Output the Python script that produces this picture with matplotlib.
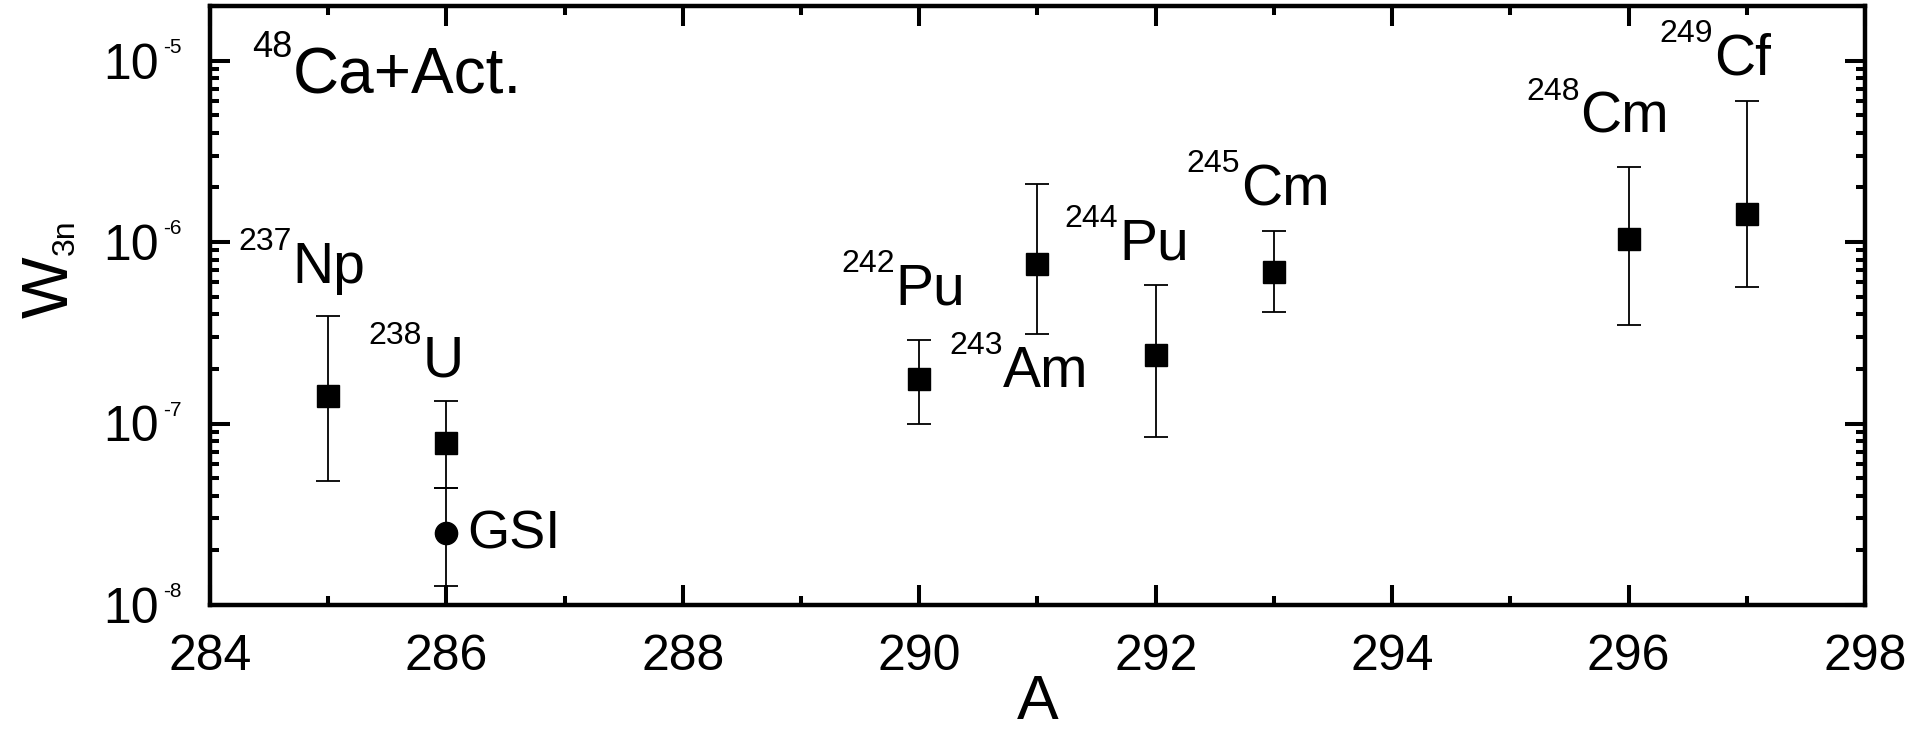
import numpy as np
import matplotlib
matplotlib.use('Agg')
import matplotlib.pyplot as plt
from matplotlib.ticker import MultipleLocator, LogLocator, NullFormatter

plt.rcParams['font.family'] = 'Liberation Sans'

# 48Ca + actinide data (A of compound nucleus, W3n with upper / lower error limits)
mass = [285, 286, 290, 291, 292, 293, 296, 297]
w3n = [1.41e-7, 7.8e-8, 1.75e-7, 7.6e-7, 2.4e-7, 6.8e-7, 1.04e-6, 1.42e-6]
w3n_hi = [3.9e-7, 1.33e-7, 2.9e-7, 2.1e-6, 5.8e-7, 1.15e-6, 2.6e-6, 6.0e-6]
w3n_lo = [4.85e-8, 4.4e-8, 9.9e-8, 3.1e-7, 8.4e-8, 4.1e-7, 3.5e-7, 5.65e-7]

# GSI point
gsi_mass = [286]
gsi_w3n = [2.48e-8]
gsi_hi = [4.4e-8]
gsi_lo = [1.27e-8]

# target labels: superscript, symbol, position (left/baseline of symbol)
lab_sup = ['237', '238', '242', '243', '244', '245', '248', '249']
lab_sym = ['Np', 'U', 'Pu', 'Am', 'Pu', 'Cm', 'Cm', 'Cf']
lab_x = [284.70, 285.80, 289.80, 290.71, 291.69, 292.72, 295.59, 296.72]
lab_y = [5.96e-7, 1.81e-7, 4.51e-7, 1.59e-7, 7.98e-7, 1.60e-6, 4.0e-6, 8.35e-6]

fig = plt.figure(figsize=(19.17, 7.34), dpi=100)
ax = fig.add_axes([0.10955, 0.17575, 0.86332, 0.81608])

m = np.array(w3n)
ax.errorbar(mass, w3n, yerr=[m - np.array(w3n_lo), np.array(w3n_hi) - m],
            fmt='s', color='black', ms=15.8, elinewidth=1.3,
            capsize=8.3, capthick=1.3)
g = np.array(gsi_w3n)
ax.errorbar(gsi_mass, gsi_w3n, yerr=[g - np.array(gsi_lo), np.array(gsi_hi) - g],
            fmt='o', color='black', ms=16, elinewidth=1.3,
            capsize=8.3, capthick=1.3)

ax.set_yscale('log')
ax.set_xlim(284, 298)
ax.set_ylim(1e-8, 2e-5)
ax.xaxis.set_major_locator(MultipleLocator(2))
ax.xaxis.set_minor_locator(MultipleLocator(1))
ax.yaxis.set_major_locator(LogLocator(10))
ax.yaxis.set_minor_locator(LogLocator(10, subs=np.arange(2, 10)))
ax.yaxis.set_major_formatter(NullFormatter())
ax.yaxis.set_minor_formatter(NullFormatter())

ax.tick_params(which='both', direction='in', top=True, right=True, width=2.9)
ax.tick_params(which='major', length=14.5)
ax.tick_params(which='minor', length=6.5)
ax.tick_params(axis='x', labelsize=36, pad=21)
for sp in ax.spines.values():
    sp.set_linewidth(3.2)

# y tick labels 10^-n drawn by hand (small exponent)
for d in [-8, -7, -6, -5]:
    ax.annotate('10', xy=(0, 10.0 ** d), xycoords=('axes fraction', 'data'),
                xytext=(-36.7, -12.9), textcoords='offset points',
                ha='right', va='baseline', fontsize=36, annotation_clip=False)
    ax.annotate(str(d), xy=(0, 10.0 ** d), xycoords=('axes fraction', 'data'),
                xytext=(-33.8, 5.5), textcoords='offset points',
                ha='left', va='baseline', fontsize=15, annotation_clip=False)

ax.set_xlabel('A', fontsize=45)
ax.xaxis.set_label_coords(0.5, -0.113)

# y axis title W_3n
fig.text(68 / 1917, 416 / 734, 'W', rotation=90, rotation_mode='anchor',
         ha='left', va='baseline', fontsize=47)
fig.text(74 / 1917, 479 / 734, '3n', rotation=90, rotation_mode='anchor',
         ha='left', va='baseline', fontsize=23)


def nuclide(x, y, sup, sym, size, sup_size):
    ax.text(x, y, sym, fontsize=size, ha='left', va='baseline')
    ax.annotate(sup, xy=(x, y), xycoords='data',
                xytext=(-0.5, 0.58 * size), textcoords='offset points',
                ha='right', va='baseline', fontsize=sup_size)


for xs, ys, s, n in zip(lab_x, lab_y, lab_sup, lab_sym):
    nuclide(xs, ys, s, n, 41, 23)
nuclide(284.70, 6.57e-6, '48', 'Ca+Act.', 46, 26)
ax.text(286.18, 2.06e-8, 'GSI', fontsize=39, ha='left', va='baseline')

fig.savefig('out.png', dpi=100)
